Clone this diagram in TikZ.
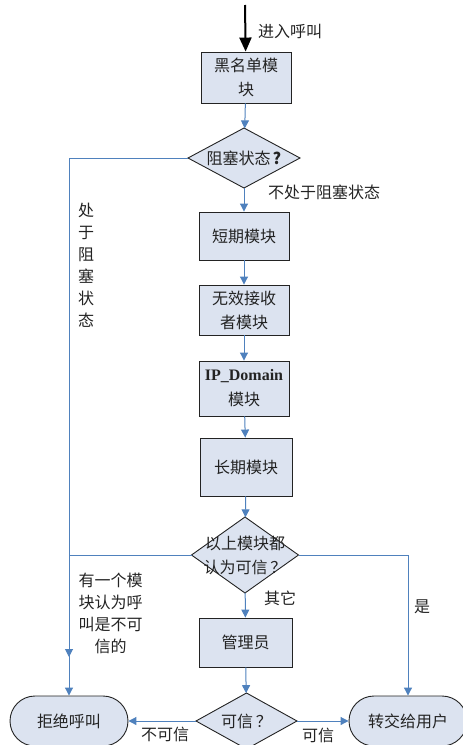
\documentclass[tikz,border=0pt]{standalone}
\usepackage{fontspec}
\setmainfont{Liberation Serif}
\newfontfamily\cjk{Noto Sans CJK SC}
\usetikzlibrary{arrows.meta,shapes.geometric}
\definecolor{boxfill}{RGB}{220,227,240}
\definecolor{flow}{RGB}{79,129,189}
\definecolor{ink}{RGB}{35,35,35}
\begin{document}
\begin{tikzpicture}[x=1pt,y=-1pt,
  txt/.style={font=\cjk\fontsize{16}{22}\selectfont, text=ink, inner sep=0pt, align=center},
  stepbox/.style={draw=ink, line width=0.9pt, fill=boxfill, minimum width=90pt, minimum height=50pt,
    align=center, font=\cjk\fontsize{16}{24}\selectfont, text=ink, inner sep=0pt},
  decision/.style={diamond, draw=ink, line width=0.9pt, fill=boxfill, inner sep=0pt, outer sep=0pt},
  terminal/.style={draw=ink, line width=0.9pt, fill=boxfill, rounded corners=25pt, minimum width=118pt,
    minimum height=50pt, font=\cjk\fontsize{16}{24}\selectfont, text=ink, inner sep=0pt},
  flowline/.style={draw=flow, line width=1pt, -{Triangle[length=8pt,width=8pt]}},
  bigline/.style={draw=black, line width=2pt, -{Triangle[length=14pt,width=12pt]}},
]
\useasboundingbox (0,0) rectangle (463,745);

% nodes
\coordinate (start) at (245,5);
\node[stepbox, minimum height=51pt] (b1) at (246,77.5) {黑名单模\\块};
\node[decision, minimum width=112pt, minimum height=60pt,
  label={[txt]center:阻塞状态\kern2pt\textbf{?}}] (d1) at (244,158) {};
\node[stepbox, minimum height=48pt] (b2) at (244,236) {短期模块};
\node[stepbox] (b3) at (244,310) {无效接收\\者模块};
\node[stepbox, minimum height=55pt, font=\cjk\fontsize{16}{25}\selectfont] (b4) at (244,388.5) {{\fontspec{Liberation Serif}\bfseries IP\_Domain}\\模块};
\node[stepbox, minimum width=92pt, minimum height=58pt] (b5) at (246,467) {长期模块};
\node[decision, minimum width=107pt, minimum height=76pt,
  label={[txt, font=\cjk\fontsize{16}{24}\selectfont]center:以上模块都\\认为可信\kern3pt？}] (d2) at (245,555) {};
\node[stepbox, minimum width=93pt, minimum height=49pt] (adm) at (245.5,642.5) {管理员};
\node[decision, minimum width=101pt, minimum height=56pt,
  label={[txt]center:可信\kern3pt？}] (d3) at (246.5,721) {};
\node[terminal] (rej) at (69,721) {拒绝呼叫};
\node[terminal] (acc) at (408,721) {转交给用户};
\coordinate (m1) at (69,657);

% labels
\node[txt, anchor=west] (l0) at (258,31) {进入呼叫};
\node[txt, anchor=west] (l1) at (268,192) {不处于阻塞状态};
\node[txt] (l2) at (86,265.5) {处\\于\\阻\\塞\\状\\态};
\node[txt] (l3) at (110.5,613) {有一个模\\块认为呼\\叫是不可\\信的};
\node[txt, anchor=west] (l4) at (264,598) {其它};
\node[txt] (l5) at (422,607) {是};
\node[txt] (l6) at (165,734) {不可信};
\node[txt] (l7) at (318,735) {可信};

% connectors
\draw[bigline] (start) -- (b1);
\draw[flowline] (b1) -- (d1);
\draw[flowline] (d1) -- (b2);
\draw[flowline] (d1.west) -- (d1.west -| m1) -- (m1);
\draw[flowline] (b2) -- (b3);
\draw[flowline] (b3) -- (b4);
\draw[flowline] (b4) -- (b5);
\draw[flowline] (b5) -- (d2);
\draw[flowline] (d2.west) -- (d2.west -| rej.north) -- (rej.north);
\draw[flowline] (d2.east) -- (d2.east -| acc.north) -- (acc.north);
\draw[flowline] (d2) -- (adm);
\draw[flowline] (adm) -- (d3);
\draw[flowline] (d3.west) -- (rej.east);
\draw[flowline] (d3.east) -- (acc.west);
\end{tikzpicture}
\end{document}
